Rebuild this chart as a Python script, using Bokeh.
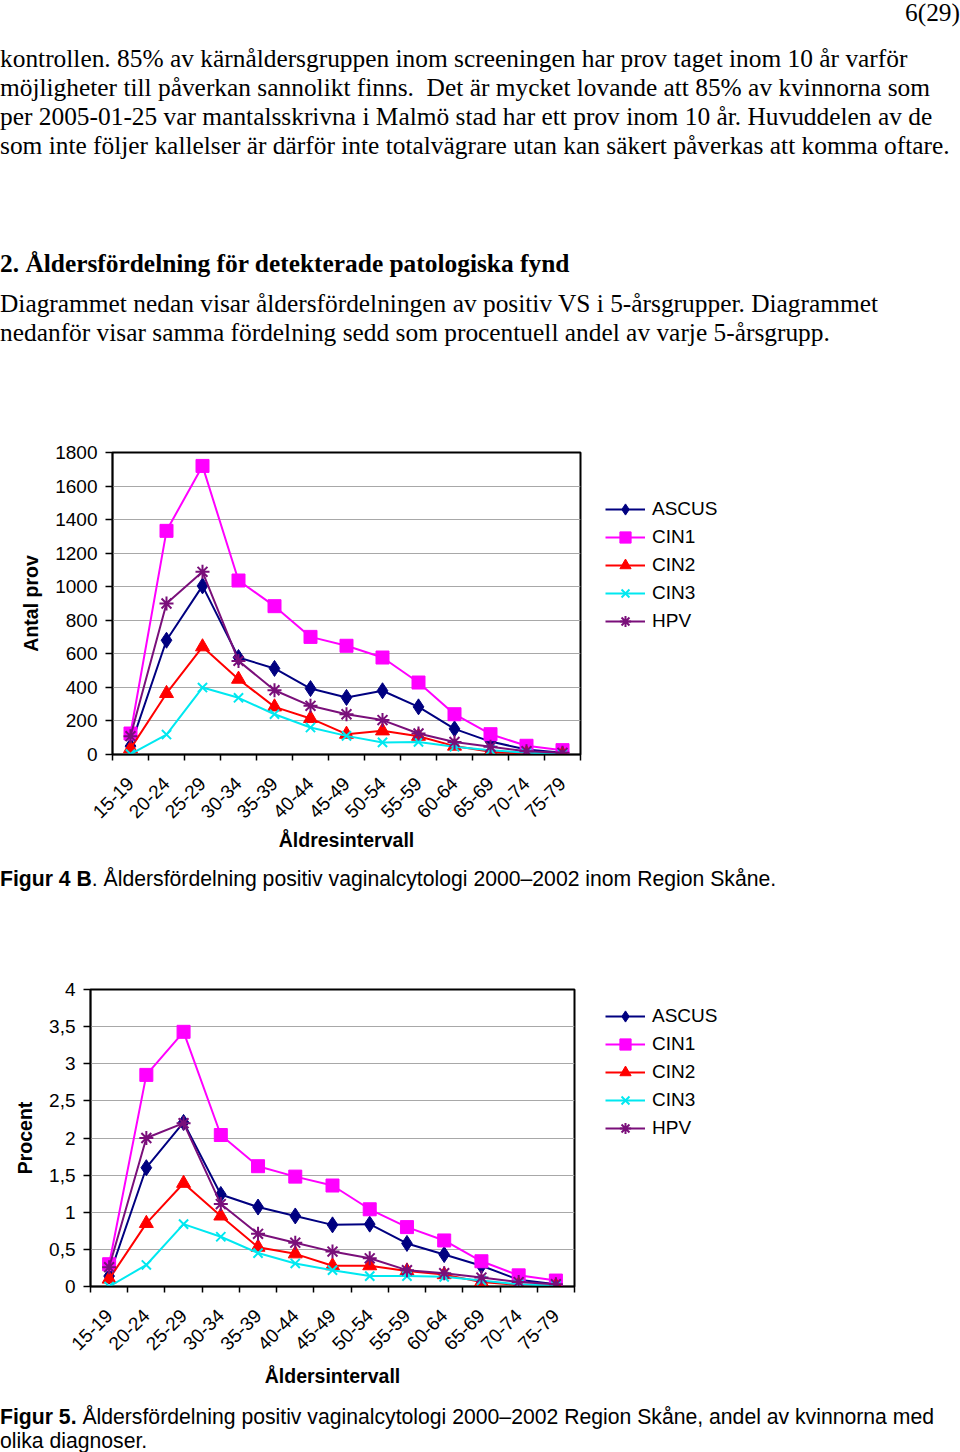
from bokeh.plotting import figure
from bokeh.models import Div, Legend, LegendItem, FixedTicker, Range1d, CustomJSTickFormatter
from bokeh.layouts import column, row
from bokeh.embed import file_html
from bokeh.resources import INLINE
import math

# ---------------- data ----------------
age_groups = ["15-19", "20-24", "25-29", "30-34", "35-39", "40-44", "45-49",
              "50-54", "55-59", "60-64", "65-69", "70-74", "75-79"]
series_names = ["ASCUS", "CIN1", "CIN2", "CIN3", "HPV"]

count_ascus = [50, 681, 1005, 578, 513, 393, 340, 380, 284, 153, 77, 30, 10]
count_cin1 = [125, 1333, 1720, 1037, 884, 701, 648, 578, 429, 240, 121, 52, 26]
count_cin2 = [35, 364, 642, 449, 284, 215, 121, 141, 109, 50, 16, 6, 2]
count_cin3 = [2, 119, 399, 338, 240, 161, 111, 72, 75, 46, 26, 10, 4]
count_hpv = [109, 900, 1089, 558, 383, 290, 240, 205, 125, 75, 46, 20, 10]

pct_ascus = [0.14, 1.60, 2.21, 1.24, 1.07, 0.95, 0.83, 0.84, 0.58, 0.43, 0.28, 0.09, 0.03]
pct_cin1 = [0.30, 2.85, 3.43, 2.04, 1.62, 1.48, 1.36, 1.04, 0.80, 0.62, 0.34, 0.15, 0.08]
pct_cin2 = [0.10, 0.85, 1.39, 0.95, 0.53, 0.44, 0.28, 0.28, 0.21, 0.16, 0.06, 0.02, 0.01]
pct_cin3 = [0.00, 0.29, 0.84, 0.67, 0.45, 0.31, 0.22, 0.14, 0.14, 0.13, 0.08, 0.03, 0.01]
pct_hpv = [0.26, 2.00, 2.20, 1.11, 0.71, 0.59, 0.47, 0.38, 0.22, 0.18, 0.12, 0.06, 0.03]

count_ticks = [0, 200, 400, 600, 800, 1000, 1200, 1400, 1600, 1800]
pct_ticks = [0, 0.5, 1, 1.5, 2, 2.5, 3, 3.5, 4]

SANS = "Liberation Sans"
SERIF = "Liberation Serif"
W = 960

styles = {
    "ASCUS": dict(color="#000080", marker="diamond", size=16),
    "CIN1": dict(color="#FF00FF", marker="square", size=13),
    "CIN2": dict(color="#FF0000", marker="triangle", size=14),
    "CIN3": dict(color="#00E8F0", marker="x", size=13),
    "HPV": dict(color="#7A0F7A", marker="asterisk", size=14),
}


def make_chart(values, y_ticks, y_title, x_title, frame_w, frame_h, borders, legend_xy, comma,
               x_title_standoff):
    n = len(age_groups)
    xs = list(range(1, n + 1))
    p = figure(frame_width=frame_w, frame_height=frame_h, output_backend="svg", toolbar_location=None,
               x_range=Range1d(0.5, n + 0.5), y_range=Range1d(y_ticks[0], y_ticks[-1]),
               min_border_left=borders[0], min_border_right=borders[1],
               min_border_top=borders[2], min_border_bottom=borders[3])
    p.margin = (0, 0, 0, 0)
    p.background_fill_color = "white"
    p.border_fill_color = "white"
    p.outline_line_color = "black"
    p.outline_line_width = 2
    p.xgrid.visible = False
    p.ygrid.grid_line_color = "#a8a8a8"
    p.ygrid.grid_line_width = 1

    # x axis: labels at category centres, ticks between categories
    p.xaxis.ticker = FixedTicker(ticks=xs, minor_ticks=[i + 0.5 for i in range(n + 1)])
    p.xaxis.formatter = CustomJSTickFormatter(args=dict(labels=age_groups),
                                              code="return labels[Math.round(tick) - 1];")
    p.xaxis.major_tick_out = 0
    p.xaxis.major_tick_in = 0
    p.xaxis.minor_tick_out = 6
    p.xaxis.minor_tick_in = 0
    p.xaxis.minor_tick_line_color = "black"
    p.xaxis.minor_tick_line_width = 1.5
    p.xaxis.major_label_orientation = math.pi / 4
    p.xaxis.major_label_standoff = 20

    # y axis
    p.yaxis.ticker = FixedTicker(ticks=y_ticks, minor_ticks=[])
    if comma:
        p.yaxis.formatter = CustomJSTickFormatter(code="return String(tick).replace('.', ',');")
    p.yaxis.major_tick_out = 7
    p.yaxis.major_tick_in = 0
    p.yaxis.major_tick_line_width = 1.5
    p.yaxis.major_label_standoff = 8

    for ax in (p.xaxis, p.yaxis):
        ax.axis_line_color = "black"
        ax.axis_line_width = 1.5
        ax.major_tick_line_color = "black"
        ax.major_label_text_font = SANS
        ax.major_label_text_font_size = "19px"
        ax.major_label_text_color = "black"
        ax.axis_label_text_font = SANS
        ax.axis_label_text_font_size = "19.5px"
        ax.axis_label_text_font_style = "bold"
        ax.axis_label_text_color = "black"
    p.xaxis.axis_label = x_title
    p.yaxis.axis_label = y_title
    p.xaxis.axis_label_standoff = x_title_standoff
    p.yaxis.axis_label_standoff = 10

    items = []
    for name in series_names:
        st = styles[name]
        ys = values[name]
        ln = p.line(xs, ys, line_color=st["color"], line_width=2)
        if st["marker"] in ("x", "asterisk"):
            sc = p.scatter(xs, ys, marker=st["marker"], size=st["size"],
                           line_color=st["color"], line_width=2)
        else:
            sc = p.scatter(xs, ys, marker=st["marker"], size=st["size"],
                           fill_color=st["color"], line_color=st["color"], line_width=1)
        items.append(LegendItem(label=name, renderers=[ln, sc]))

    legend = Legend(items=items, location=legend_xy, padding=0, margin=0, spacing=0,
                    glyph_width=40, glyph_height=28, label_height=28, label_standoff=7,
                    label_text_font=SANS, label_text_font_size="19px",
                    label_text_color="black", border_line_color=None,
                    background_fill_alpha=0)
    p.add_layout(legend, "right")
    return p


count_values = {"ASCUS": count_ascus, "CIN1": count_cin1, "CIN2": count_cin2,
                "CIN3": count_cin3, "HPV": count_hpv}
pct_values = {"ASCUS": pct_ascus, "CIN1": pct_cin1, "CIN2": pct_cin2,
              "CIN3": pct_cin3, "HPV": pct_hpv}

# chart 1: page y 430..860, frame x 112..580, y 452..754
chart1 = make_chart(count_values, count_ticks, "Antal prov", "Åldresintervall",
                    468, 302, (112, 10, 22, 106), (25, 119), False, 2)
# chart 2: page y 975..1395, frame x 90..574, y 989..1286
chart2 = make_chart(pct_values, pct_ticks, "Procent", "Åldersintervall",
                    484, 297, (90, 10, 14, 109), (31, 144), True, 6)


def line_div(top, text, size, lh, font, weight="normal", left=0):
    return (f'<div style="position:absolute;left:{left}px;top:{top}px;white-space:nowrap;'
            f'font-family:\'{font}\';font-size:{size}px;line-height:{lh}px;font-weight:{weight};'
            f'color:black;">{text}</div>')


para1 = ["kontrollen. 85% av kärnåldersgruppen inom screeningen har prov taget inom 10 år varför",
         "möjligheter till påverkan sannolikt finns.&nbsp; Det är mycket lovande att 85% av kvinnorna som",
         "per 2005-01-25 var mantalsskrivna i Malmö stad har ett prov inom 10 år. Huvuddelen av de",
         "som inte följer kallelser är därför inte totalvägrare utan kan säkert påverkas att komma oftare."]
heading = "2. Åldersfördelning för detekterade patologiska fynd"
para2 = ["Diagrammet nedan visar åldersfördelningen av positiv VS i 5-årsgrupper. Diagrammet",
         "nedanför visar samma fördelning sedd som procentuell andel av varje 5-årsgrupp."]

BODY = 25.4
html_a = f'<div style="position:relative;width:{W}px;height:430px;">'
html_a += ('<div style="position:absolute;right:0px;top:0px;white-space:nowrap;'
           f'font-family:\'{SERIF}\';font-size:{BODY}px;line-height:24px;color:black;">6(29)</div>')
for i, t in enumerate(para1):
    html_a += line_div(44 + 29 * i, t, BODY, 29, SERIF)
html_a += line_div(249, heading, BODY, 29, SERIF, weight="bold")
for i, t in enumerate(para2):
    html_a += line_div(289 + 29 * i, t, BODY, 29, SERIF)
html_a += '</div>'
div_a = Div(text=html_a, width=W, height=430, margin=(0, 0, 0, 0))

CAP = 21.2
html_b = f'<div style="position:relative;width:{W}px;height:115px;">'
html_b += line_div(7, "<b>Figur 4 B</b>. Åldersfördelning positiv vaginalcytologi 2000–2002 inom Region Skåne.",
                   CAP, 24, SANS)
html_b += '</div>'
div_b = Div(text=html_b, width=W, height=115, margin=(0, 0, 0, 0))

html_c = f'<div style="position:relative;width:{W}px;height:53px;">'
html_c += line_div(10, "<b>Figur 5.</b> Åldersfördelning positiv vaginalcytologi 2000–2002 Region Skåne, andel av kvinnorna med",
                   CAP, 24, SANS)
html_c += line_div(34, "olika diagnoser.", CAP, 24, SANS)
html_c += '</div>'
div_c = Div(text=html_c, width=W, height=53, margin=(0, 0, 0, 0))

page = column(div_a, row(chart1, margin=(0, 0, 0, 0)), div_b,
              row(chart2, margin=(0, 0, 0, 0)), div_c, spacing=0, margin=(0, 0, 0, 0))

with open("out.html", "w", encoding="utf-8") as f:
    f.write(file_html(page, INLINE))
